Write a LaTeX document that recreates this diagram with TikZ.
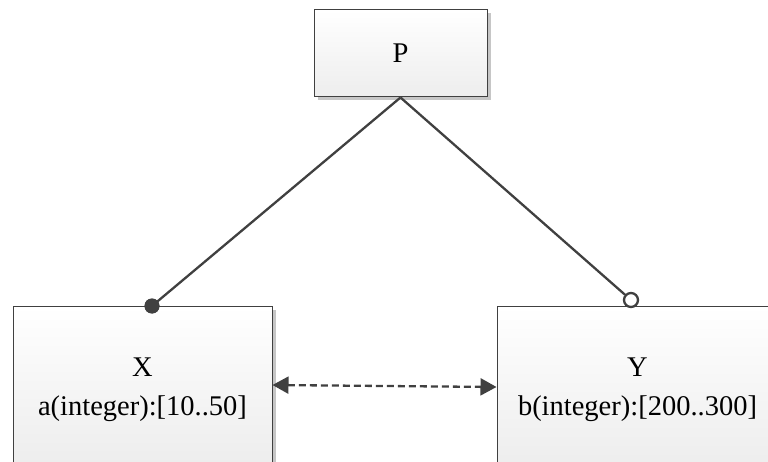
\documentclass[tikz,border=0pt]{standalone}
\usepackage{fontspec}
\setmainfont{Liberation Serif}
\usetikzlibrary{shadows,arrows.meta}
\definecolor{edge}{HTML}{404040}
\definecolor{boxlow}{HTML}{EDEDED}
\tikzset{
  box/.style={draw=edge, line width=1pt, rectangle, inner sep=0pt,
    top color=white, bottom color=boxlow,
    drop shadow={shadow xshift=3.5pt, shadow yshift=-3.5pt, fill=gray!45, opacity=1}},
  label/.style={font=\fontsize{28.5}{39}\selectfont, align=center, inner sep=0pt},
  link/.style={draw=edge, line width=2.3pt},
  dot/.style={circle, fill=edge, inner sep=0pt, minimum size=15pt},
  ring/.style={circle, draw=edge, fill=white, line width=2.3pt, inner sep=0pt, minimum size=14pt},
}
\begin{document}
\begin{tikzpicture}[x=1pt, y=-1pt]
  \useasboundingbox (0,0) rectangle (768,462);
  % boxes
  \node[box, minimum width=173pt, minimum height=87pt] (P) at (400.5,53.5) {};
  \node[box, minimum width=259pt, minimum height=158pt] (X) at (142.5,385) {};
  \node[box, minimum width=282pt, minimum height=162pt] (Y) at (638,387) {};
  % texts (base anchor = baseline of the last line)
  \node[label] (Pt) at (P.center) {P};
  \node[label, anchor=base] (Xt) at (142.5,415) {X\\a(integer):[10..50]};
  \node[label, anchor=base] (Yt) at (637.5,415) {Y\\b(integer):[200..300]};
  % ends of the links
  \node[dot] (dX) at (152,306) {};
  \node[ring] (oY) at (631,300) {};
  \draw[link] (P.south) -- (dX.center);
  \draw[link] (P.south) -- (oY);
  \node[dot] at (dX) {};
  % dashed double arrow
  \draw[link, dash pattern=on 7pt off 4pt,
        {Triangle[length=16pt, width=17pt]}-{Triangle[length=16pt, width=17pt]}]
        (X.east) -- (Y.west);
\end{tikzpicture}
\end{document}
